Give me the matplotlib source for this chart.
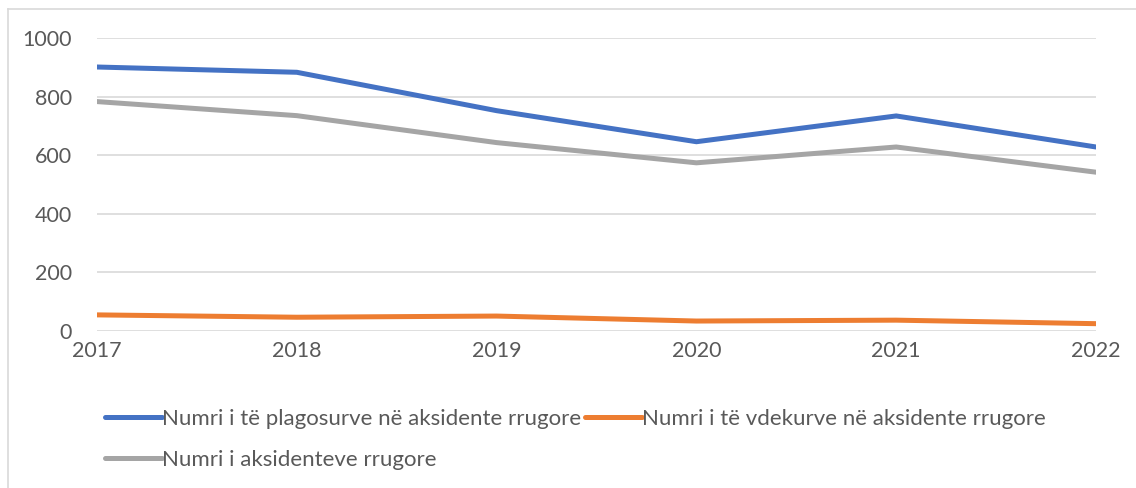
import matplotlib.pyplot as plt
from matplotlib.lines import Line2D

# data
years = [2017, 2018, 2019, 2020, 2021, 2022]
plagosur = [901, 883, 752, 646, 734, 628]
vdekur = [55, 47, 51, 34, 37, 25]
aksidente = [783, 735, 643, 574, 628, 542]

labels = ['Numri i të plagosurve në aksidente rrugore',
          'Numri i të vdekurve në aksidente rrugore',
          'Numri i aksidenteve rrugore']
colors = ['#4472C4', '#ED7D31', '#A5A5A5']
yticks = [0, 200, 400, 600, 800, 1000]

plt.rcParams['font.family'] = ['Lato', 'DejaVu Sans']
text_color = '#595959'

W, H = 1136, 488
fig = plt.figure(figsize=(W / 100, H / 100), dpi=100)
ax = fig.add_axes([97 / W, 1 - 331 / H, (1096 - 97) / W, (331 - 38) / H])

lines = []
for vals, lab, col in zip([plagosur, vdekur, aksidente], labels, colors):
    ln, = ax.plot(years, vals, color=col, lw=3.6, label=lab,
                  solid_capstyle='round', solid_joinstyle='miter')
    lines.append(ln)

ax.set_xlim(years[0], years[-1])
ax.set_ylim(0, 1000)
ax.set_xticks(years)
ax.set_yticks(yticks)
ax.set_yticklabels([str(v) for v in yticks])
ax.tick_params(length=0, labelsize=15.5, colors=text_color)
ax.tick_params(axis='y', pad=18)
ax.tick_params(axis='x', pad=7)
ax.grid(axis='y', color='#D9D9D9', lw=1.2)
ax.set_axisbelow(True)
for s in ax.spines.values():
    s.set_visible(False)

# legend: blue and gray in first column, orange in the second
leg = fig.legend([lines[0], lines[2], lines[1]], [labels[0], labels[2], labels[1]],
                 ncol=2, loc='upper left', bbox_to_anchor=(85 / W, 1 - 389 / H),
                 frameon=False, fontsize=16, handlelength=2.55, handletextpad=0.0,
                 columnspacing=0.2, labelspacing=0.95, labelcolor=text_color)

# chart border (top and left edges visible)
fig.add_artist(Line2D([7.5 / W, 1], [1 - 9 / H, 1 - 9 / H], color='#D9D9D9', lw=1.2))
fig.add_artist(Line2D([7.5 / W, 7.5 / W], [0, 1 - 9 / H], color='#D9D9D9', lw=1.2))

fig.savefig('out.png', dpi=100)
